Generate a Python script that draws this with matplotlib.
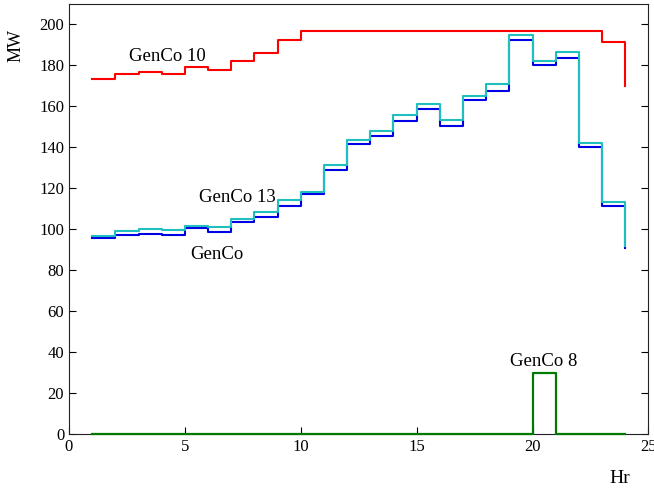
import numpy as np
import matplotlib.pyplot as plt

plt.rcParams['font.family'] = ['Liberation Serif', 'DejaVu Serif']

# Hours 1..24 (step plot, value holds until next hour)
hours = np.arange(1, 25)

genco10 = [173.4, 176.0, 176.7, 176.0, 179.0, 177.7, 182.2, 185.8, 192.2, 197.0,
           197.0, 197.0, 197.0, 197.0, 197.0, 197.0, 197.0, 197.0, 197.0, 197.0,
           197.0, 197.0, 191.3, 170.0]
genco13 = [96.8, 99.3, 100.1, 99.4, 101.7, 101.1, 105.1, 108.4, 114.1, 118.3,
           131.4, 143.8, 147.8, 156.0, 160.9, 153.5, 164.9, 170.7, 194.6, 182.2,
           186.5, 142.1, 113.1, 92.0]
genco = [95.5, 97.2, 97.9, 97.0, 100.6, 98.8, 103.7, 106.1, 111.2, 117.4,
         128.9, 141.6, 145.5, 152.9, 158.6, 150.4, 163.0, 167.7, 192.3, 180.1,
         183.4, 140.0, 111.2, 91.0]
genco8 = [0, 0, 0, 0, 0, 0, 0, 0, 0, 0,
          0, 0, 0, 0, 0, 0, 0, 0, 0, 30,
          0, 0, 0, 0]

fig = plt.figure(figsize=(6.54, 4.91), dpi=100)
ax = fig.add_axes([0.1055, 0.116, 0.886, 0.876])

ax.step(hours, genco10, where='post', color='#ff0000', lw=1.5)
ax.step(hours, genco, where='post', color='#0000e6', lw=1.5)
ax.step(hours, genco13, where='post', color='#1fbfbf', lw=1.5)
ax.step(hours, genco8, where='post', color='#007a00', lw=1.6, zorder=3, clip_on=False)

ax.text(4.23, 184.3, 'GenCo 10', fontsize=13.5, ha='center', va='center')
ax.text(7.25, 115.4, 'GenCo 13', fontsize=13.5, ha='center', va='center')
ax.text(6.39, 87.5, 'GenCo', fontsize=13.5, ha='center', va='center')
ax.text(20.47, 35.2, 'GenCo 8', fontsize=13.5, ha='center', va='center')

ax.set_xlim(0, 25)
ax.set_ylim(0, 210)
ax.set_xticks(range(0, 26, 5))
ax.set_yticks(range(0, 201, 20))
ax.tick_params(direction='in', right=True, labelsize=12, length=5)
for s in ax.spines.values():
    s.set_color('#222222')

fig.text(0.948, 0.026, 'Hr', fontsize=14, ha='center', va='center')
fig.text(0.024, 0.908, 'MW', fontsize=13, rotation=90, ha='center', va='center')

fig.savefig('out.png', dpi=100)
